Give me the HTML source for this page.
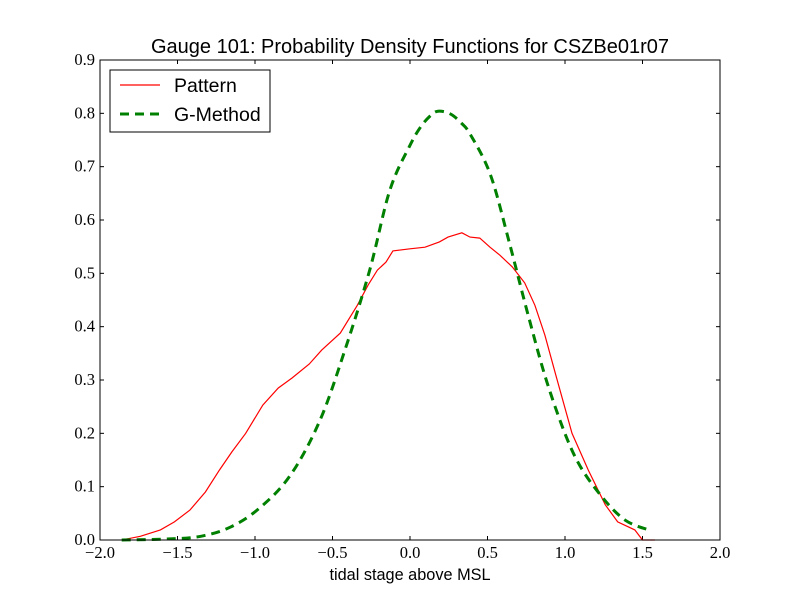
<!DOCTYPE html>
<html><head><meta charset="utf-8"><style>body{margin:0;background:#fff}svg{display:block}</style></head>
<body>
<svg id="chart" width="800" height="600" xmlns="http://www.w3.org/2000/svg">
<rect x="0" y="0" width="800" height="600" fill="#fff"/>
<text x="410" y="53" text-anchor="middle" font-family="Liberation Sans, sans-serif" font-size="20">Gauge 101: Probability Density Functions for CSZBe01r07</text>
<g id="axes"></g>
<g id="series"></g>
<rect x="100" y="60" width="620" height="480" fill="none" stroke="#000" stroke-width="1"/>
<g>
<rect x="110" y="70" width="160" height="62" fill="#fff" stroke="#000"/>
<line x1="120" y1="85" x2="160" y2="85" stroke="#f00" stroke-width="1.2"/>
<text x="174" y="92" font-family="Liberation Sans, sans-serif" font-size="19.5">Pattern</text>
<line x1="120" y1="114" x2="160" y2="114" stroke="#008000" stroke-width="3" stroke-dasharray="9,6"/>
<text x="174" y="121" font-family="Liberation Sans, sans-serif" font-size="19.5">G-Method</text>
</g>
<text x="410" y="580" text-anchor="middle" font-family="Liberation Sans, sans-serif" font-size="16.3">tidal stage above MSL</text>
</svg>
<script>
const xTicks=[-2.0,-1.5,-1.0,-0.5,0.0,0.5,1.0,1.5,2.0];
const yTicks=[0.0,0.1,0.2,0.3,0.4,0.5,0.6,0.7,0.8,0.9];
const patternX=[-1.86,-1.74,-1.61,-1.52,-1.42,-1.32,-1.23,-1.15,-1.06,-0.95,-0.85,-0.76,-0.65,-0.57,-0.45,-0.34,-0.27,-0.21,-0.155,-0.11,0,0.097,0.19,0.245,0.335,0.387,0.45,0.516,0.58,0.66,0.74,0.806,0.87,0.94,1.045,1.15,1.26,1.34,1.45,1.5,1.58];
const patternY=[0,0.007,0.019,0.034,0.056,0.09,0.131,0.165,0.2,0.253,0.285,0.304,0.33,0.356,0.388,0.44,0.478,0.506,0.521,0.542,0.546,0.549,0.559,0.568,0.576,0.568,0.566,0.549,0.534,0.512,0.482,0.44,0.384,0.31,0.2,0.131,0.066,0.034,0.019,0,0];
const gX=[-1.86,-1.55,-1.35,-1.16,-0.97,-0.77,-0.58,-0.42,-0.26,-0.13,0,0.07,0.13,0.18,0.26,0.33,0.39,0.52,0.645,0.77,0.9,1.06,1.23,1.39,1.56];
const gY=[0,0.002,0.007,0.024,0.06,0.122,0.225,0.356,0.506,0.656,0.74,0.775,0.795,0.804,0.799,0.782,0.76,0.684,0.553,0.413,0.281,0.159,0.084,0.037,0.017];
const NS='http://www.w3.org/2000/svg';
const sx=v=>100+(v+2)/4*620, sy=v=>540-v/0.9*480;
const axes=document.getElementById('axes'), series=document.getElementById('series');
function mk(t,a,p){const e=document.createElementNS(NS,t);for(const k in a)e.setAttribute(k,a[k]);p.appendChild(e);return e;}
xTicks.forEach(v=>{const x=sx(v);
 let l=mk('line',{x1:x,y1:540,x2:x,y2:536,stroke:'#000'},axes);
 
 
 l=mk('line',{x1:x,y1:60,x2:x,y2:64,stroke:'#000'},axes);
 
 
 const t=mk('text',{x:x,y:558,'text-anchor':'middle','font-family':'Liberation Serif, serif','font-size':16.5},axes);
 t.textContent=(v<0?'\u2212':'')+Math.abs(v).toFixed(1);
 
 });
yTicks.forEach(v=>{const y=sy(v);
 let l=mk('line',{x1:100,y1:y,x2:104,y2:y,stroke:'#000'},axes);
 
 
 l=mk('line',{x1:716,y1:y,x2:720,y2:y,stroke:'#000'},axes);
 
 
 const t=mk('text',{x:95,y:y+5,'text-anchor':'end','font-family':'Liberation Serif, serif','font-size':16.5},axes);
 t.textContent=v.toFixed(1);
 
 });
function smooth(X,Y){const P=X.map((x,i)=>[sx(x),sy(Y[i])]);let d='M'+P[0][0].toFixed(1)+','+P[0][1].toFixed(1);
 for(let i=0;i<P.length-1;i++){const p0=P[i-1]||P[i],p1=P[i],p2=P[i+1],p3=P[i+2]||p2;
  const c1=[p1[0]+(p2[0]-p0[0])/6,p1[1]+(p2[1]-p0[1])/6],c2=[p2[0]-(p3[0]-p1[0])/6,p2[1]-(p3[1]-p1[1])/6];
  d+=' C'+c1.map(v=>v.toFixed(1))+' '+c2.map(v=>v.toFixed(1))+' '+p2.map(v=>v.toFixed(1));}
 return d;}
function pts(X,Y){return X.map((x,i)=>sx(x).toFixed(1)+','+sy(Y[i]).toFixed(1)).join(' ');}
let p=mk('polyline',{points:pts(patternX,patternY),fill:'none',stroke:'#f00','stroke-width':1.2},series);


p=mk('path',{d:smooth(gX,gY),fill:'none',stroke:'#008000','stroke-width':3,'stroke-dasharray':'9,6'},series);


</script>
</body></html>
